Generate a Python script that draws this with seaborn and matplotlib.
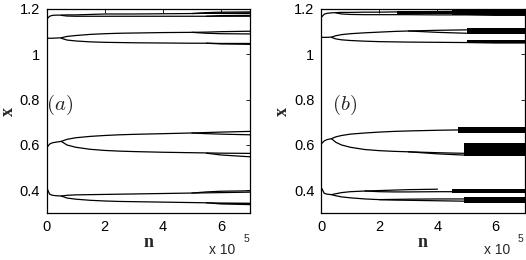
import numpy as np
import pandas as pd
import matplotlib
matplotlib.use("Agg")
import matplotlib.pyplot as plt
import seaborn as sns

nan = np.nan
# common n grid (units of 1e5)
N = [0, 0.1, 0.2, 0.35, 0.5, 0.7, 1, 1.5, 2, 2.5, 3, 4, 5, 5.5, 6, 7]

# ---------------- panel (a) branches ----------------
a_A1 = [1.155, 1.168, 1.172, 1.173, 1.173, 1.174, 1.174, 1.176, 1.178, 1.178, 1.178, 1.179, 1.180, 1.181, 1.182, 1.183]
a_A2 = [nan, nan, nan, nan, 1.172, 1.169, 1.168, 1.168, 1.168, 1.168, 1.168, 1.168, 1.168, 1.168, 1.168, 1.168]
a_A3 = [nan, nan, nan, nan, nan, nan, nan, nan, nan, nan, nan, nan, 1.180, 1.184, 1.186, 1.187]
a_A4 = [nan, nan, nan, nan, nan, nan, nan, nan, nan, nan, nan, nan, nan, 1.168, 1.171, 1.172]
a_B1 = [1.071, 1.071, 1.071, 1.072, 1.073, 1.079, 1.083, 1.088, 1.091, 1.093, 1.094, 1.096, 1.097, 1.098, 1.100, 1.102]
a_B2 = [nan, nan, nan, nan, 1.071, 1.063, 1.059, 1.055, 1.053, 1.052, 1.051, 1.050, 1.049, 1.049, 1.048, 1.048]
a_B3 = [nan, nan, nan, nan, nan, nan, nan, nan, nan, nan, nan, nan, 1.097, 1.093, 1.091, 1.090]
a_B4 = [nan, nan, nan, nan, nan, nan, nan, nan, nan, nan, nan, nan, nan, 1.049, 1.046, 1.044]
a_C1 = [0.588, 0.604, 0.610, 0.613, 0.616, 0.625, 0.632, 0.638, 0.642, 0.645, 0.647, 0.650, 0.653, 0.655, 0.657, 0.660]
a_C2 = [nan, nan, nan, nan, 0.616, 0.600, 0.590, 0.581, 0.576, 0.573, 0.571, 0.568, 0.566, 0.565, 0.564, 0.563]
a_C3 = [nan, nan, nan, nan, nan, nan, nan, nan, nan, nan, nan, nan, 0.653, 0.650, 0.648, 0.645]
a_C4 = [nan, nan, nan, nan, nan, nan, nan, nan, nan, nan, nan, nan, nan, 0.564, 0.556, 0.548]
a_D1 = [0.412, 0.383, 0.378, 0.376, 0.375, 0.378, 0.380, 0.381, 0.382, 0.383, 0.384, 0.386, 0.388, 0.389, 0.390, 0.392]
a_D2 = [nan, nan, nan, nan, 0.375, 0.366, 0.361, 0.356, 0.353, 0.351, 0.350, 0.348, 0.346, 0.345, 0.344, 0.343]
a_D3 = [nan, nan, nan, nan, nan, nan, nan, nan, nan, nan, nan, nan, 0.388, 0.393, 0.396, 0.398]
a_D4 = [nan, nan, nan, nan, nan, nan, nan, nan, nan, nan, nan, nan, nan, 0.345, 0.340, 0.337]
a_branches = [a_A1, a_A2, a_A3, a_A4, a_B1, a_B2, a_B3, a_B4,
              a_C1, a_C2, a_C3, a_C4, a_D1, a_D2, a_D3, a_D4]
# dense bands in (a): n range, low, high
a_band_n = [[5.0, 7.0], [5.8, 7.0]]
a_band_lo = [1.177, 0.338]
a_band_hi = [1.181, 0.345]

# ---------------- panel (b) branches ----------------
b_A1 = [1.163, 1.177, 1.181, 1.183, 1.184, 1.185, 1.185, 1.186, 1.186, 1.187, 1.188, 1.189, 1.190, 1.191, 1.192, 1.193]
b_A2 = [nan, nan, nan, nan, 1.183, 1.178, 1.176, 1.175, 1.175, 1.175, 1.175, 1.174, 1.174, 1.173, 1.172, 1.172]
b_B1 = [1.075, 1.075, 1.075, 1.076, 1.082, 1.087, 1.091, 1.095, 1.098, 1.101, 1.103, 1.106, 1.108, nan, nan, nan]
b_B2 = [nan, nan, nan, 1.075, 1.068, 1.064, 1.061, 1.058, 1.056, 1.055, 1.054, 1.053, 1.052, 1.051, 1.050, 1.050]
b_B3 = [nan, nan, nan, nan, nan, nan, nan, nan, nan, nan, 1.103, 1.097, 1.093, nan, nan, nan]
b_C1 = [0.605, 0.618, 0.624, 0.628, 0.636, 0.642, 0.648, 0.653, 0.657, 0.660, 0.662, 0.665, 0.667, nan, nan, nan]
b_C2 = [nan, nan, nan, 0.628, 0.612, 0.600, 0.590, 0.580, 0.575, 0.572, 0.570, 0.566, 0.563, nan, nan, nan]
b_C3 = [nan, nan, nan, nan, nan, nan, nan, nan, nan, nan, 0.570, 0.561, 0.555, nan, nan, nan]
b_D1 = [0.412, 0.387, 0.383, 0.381, 0.385, 0.390, 0.394, 0.397, 0.399, 0.401, 0.403, 0.405, nan, nan, nan, nan]
b_D2 = [nan, nan, nan, 0.381, 0.376, 0.371, 0.367, 0.362, 0.359, 0.357, 0.356, 0.354, 0.352, nan, nan, nan]
b_D3 = [nan, nan, nan, nan, nan, nan, nan, 0.397, 0.394, 0.393, 0.393, 0.394, 0.394, nan, nan, nan]
b_D4 = [nan, nan, nan, nan, nan, nan, nan, nan, 0.359, 0.360, 0.361, 0.362, 0.362, nan, nan, nan]
b_branches = [b_A1, b_A2, b_B1, b_B2, b_B3, b_C1, b_C2, b_C3, b_D1, b_D2, b_D3, b_D4]
b_band_n = [[2.6, 4.5], [4.5, 7.0], [5.0, 7.0], [5.0, 7.0], [4.7, 7.0], [4.9, 7.0], [4.5, 7.0], [4.9, 7.0]]
b_band_lo = [1.177, 1.172, 1.090, 1.048, 0.654, 0.550, 0.387, 0.343]
b_band_hi = [1.189, 1.195, 1.116, 1.062, 0.679, 0.610, 0.408, 0.370]

panel_labels = ["(a)", "(b)"]
label_pos_n = [0.45, 0.8]
label_pos_x = [0.775, 0.775]
xticks = [0, 2, 4, 6]
yticks = [0.4, 0.6, 0.8, 1.0, 1.2]
yticklabels = ["0.4", "0.6", "0.8", "1", "1.2"]

sns.set_theme(style="white")
plt.rcParams["font.family"] = ["Liberation Sans", "DejaVu Sans"]
plt.rcParams["mathtext.fontset"] = "cm"

fig = plt.figure(figsize=(5.26, 2.60), dpi=100)
ax_a = fig.add_axes([46.7 / 526, 1 - 213 / 260, 203.3 / 526, 204 / 260])
ax_b = fig.add_axes([321.3 / 526, 1 - 213 / 260, 203.3 / 526, 204 / 260])

panels = [(ax_a, a_branches, a_band_n, a_band_lo, a_band_hi),
          (ax_b, b_branches, b_band_n, b_band_lo, b_band_hi)]

for i, (ax, branches, bn, blo, bhi) in enumerate(panels):
    for br in branches:
        df = pd.DataFrame({"n": N, "x": br}).dropna()
        sns.lineplot(data=df, x="n", y="x", ax=ax, color="black", lw=0.9,
                     estimator=None, sort=False, legend=False)
    for rng, lo, hi in zip(bn, blo, bhi):
        ax.fill_between(rng, [lo, lo], [hi, hi], color="black", lw=0)
    ax.set_xlim(0, 7)
    ax.set_ylim(0.3, 1.2)
    ax.set_xticks(xticks)
    ax.set_xticklabels([str(t) for t in xticks])
    ax.set_yticks(yticks)
    ax.set_yticklabels(yticklabels)
    ax.tick_params(direction="in", length=3, width=0.6, top=True, right=True,
                   labelsize=10.5, pad=5, colors="black")
    for s in ax.spines.values():
        s.set_visible(True)
        s.set_color("black")
        s.set_linewidth(0.9)
    ax.set_xlabel("n", family="Liberation Serif", fontweight="bold", fontsize=13, labelpad=0)
    ax.set_ylabel("x", family="Liberation Serif", fontweight="bold", fontsize=13, labelpad=2)
    ax.text(label_pos_n[i], label_pos_x[i], "$" + panel_labels[i] + "$",
            fontsize=15, ha="center", va="center")
    ax.text(0.80, -0.147, "x 10", transform=ax.transAxes, fontsize=10, ha="left", va="top")
    ax.text(0.995, -0.105, "5", transform=ax.transAxes, fontsize=7.5, ha="right", va="top")

fig.savefig("out.png", dpi=100, facecolor="white")
